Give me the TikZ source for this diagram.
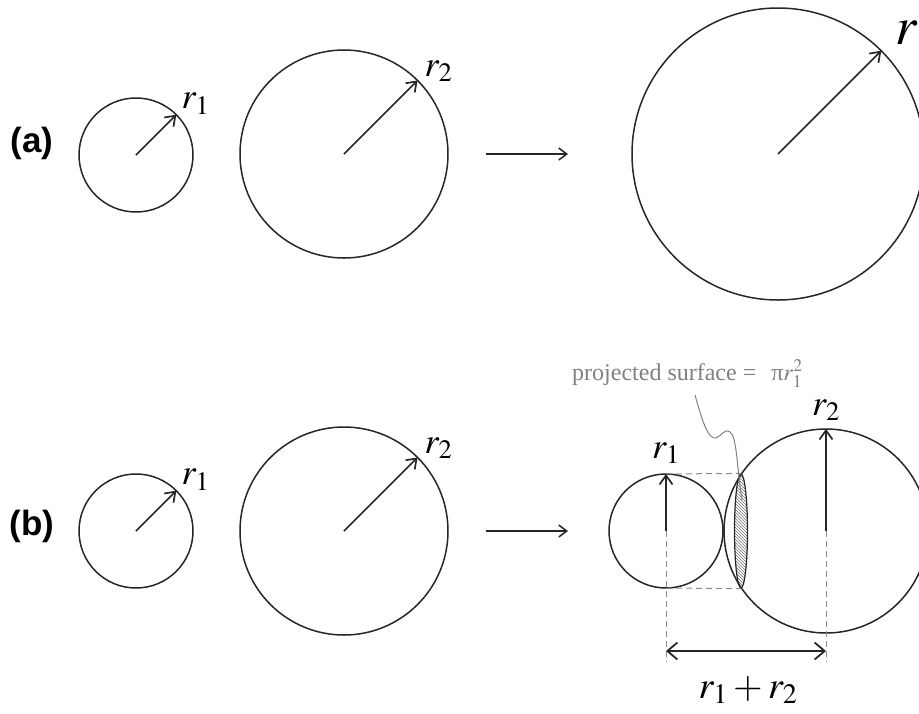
\documentclass[tikz,border=0pt]{standalone}
\usepackage{mathptmx}
\usepackage[no-math]{fontspec}
\setmainfont{Liberation Serif}
\newfontfamily\rowfont{Liberation Sans}
\usetikzlibrary{arrows.meta, positioning, patterns, shapes.geometric, calc}

\begin{document}
\begin{tikzpicture}[
    x=1pt, y=-1pt,
    ball/.style={
        circle,
        draw=black!85,
        line width=1.5pt,
        inner sep=0pt,
        outer sep=0pt,
        minimum size=#1
    },
    rarrow/.style={
        -{Straight Barb[length=9pt, width=13pt, line width=1.7pt]},
        line width=1.5pt,
        black!85
    },
    flow/.style={
        -{Straight Barb[length=8pt, width=12pt, line width=1.5pt]},
        line width=1.5pt,
        black!85
    },
    dimarrow/.style={
        {Straight Barb[length=10pt, width=17pt, line width=1.8pt]}-{Straight Barb[length=10pt, width=17pt, line width=1.8pt]},
        line width=1.8pt,
        black!85
    },
    guide/.style={
        black!45,
        line width=1pt,
        dash pattern=on 6pt off 4pt
    },
    rlab/.style={
        inner sep=0pt,
        font=\fontsize{36}{40}\selectfont
    },
    rowlab/.style={
        font=\rowfont\bfseries\fontsize{35}{40}\selectfont
    },
    note/.style={
        inner sep=0pt,
        text=black!50,
        font=\fontsize{24}{30}\selectfont
    }
]

\useasboundingbox (0,0) rectangle (919,713);

% Row (a)
\node[rowlab] (ta) at (32,143) {(a)};
\node[ball=114] (a1) at (136,155) {};
\node[ball=208] (a2) at (344,154) {};
\node[ball=292] (a3) at (778,154) {};

\draw[rarrow] (a1.center) -- (a1.45);
\draw[rarrow] (a2.center) -- (a2.45);
\draw[rarrow] (a3.center) -- (a3.45);

\node[rlab, anchor=base west] (ra1) at ($(a1.45)+(5,-6)$) {$r_1$};
\node[rlab, anchor=base west] (ra2) at ($(a2.45)+(7,-4)$) {$r_2$};
\node[rlab, font=\fontsize{54}{58}\selectfont, anchor=base west] (ra3) at ($(a3.45)+(14,-6)$) {$r$};

\draw[flow, shorten <=38pt, shorten >=64pt] (a2.east) -- (a3.west);

% Row (b)
\node[rowlab] (tb) at (32,526) {(b)};
\node[ball=114] (b1) at (136,531) {};
\node[ball=208] (b2) at (344,531) {};

\draw[rarrow] (b1.center) -- (b1.45);
\draw[rarrow] (b2.center) -- (b2.45);

\node[rlab, anchor=base west] (rb1) at ($(b1.45)+(5,-6)$) {$r_1$};
\node[rlab, anchor=base west] (rb2) at ($(b2.45)+(7,-4)$) {$r_2$};

\node[ball=114] (b3) at (666,531) {};
\node[ball=204] (b4) at (826,531) {};

\draw[flow, shorten <=38pt, shorten >=41pt] (b2.east) -- (b3.west);

% Projected surface
\node[ellipse, draw=black!85, line width=1.2pt, inner sep=0pt,
      minimum width=13, minimum height=114,
      pattern=north west lines, pattern color=black!55] (lens) at (741,531) {};

\draw[guide] (b3.north) -- (lens.north);
\draw[guide] (b3.south) -- (lens.south);

\coordinate (g1) at (666,662);
\coordinate (g2) at (826,662);
\draw[guide] (b3.center) -- (g1);
\draw[guide] (b4.center) -- (g2);

\draw[rarrow] (b3.center) -- (b3.north);
\draw[rarrow] (b4.center) -- (b4.north);

\node[rlab, above=10pt of b3.north] (rb3) {$r_1$};
\node[rlab, above=8pt of b4.north] (rb4) {$r_2$};

% Distance between centres
\coordinate (d1) at (666,651);
\coordinate (d2) at (826,651);
\draw[dimarrow] (d1) -- (d2);
\node[rlab, font=\fontsize{38}{42}\selectfont] (sum) at (748,690) {$r_1+r_2$};

% Leader to the hatched area
\node[note, anchor=base west] (proj) at (572,380) {projected surface = \hspace{9pt}π$r_1^2$};
\coordinate (lead) at (695,395);
\coordinate (leadend) at (742,500);
\draw[black!50, line width=1pt] (lead) .. controls (702,420) and (708,440) .. (716,438)
    .. controls (722,436) and (724,428) .. (730,432)
    .. controls (737,436) and (737,470) .. (leadend);

\end{tikzpicture}
\end{document}
